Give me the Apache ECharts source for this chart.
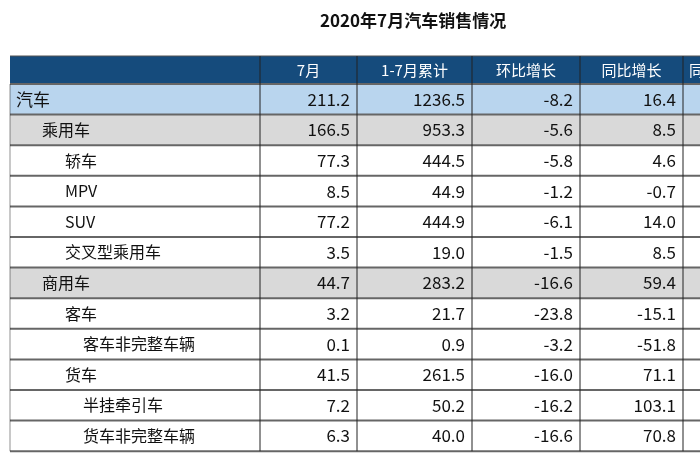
<!DOCTYPE html>
<html><head><meta charset="utf-8">
<script src="https://cdn.jsdelivr.net/npm/echarts@6/dist/echarts.min.js"></script>
<style>html,body{margin:0;background:#fff}#c{width:700px;height:466px}</style>
</head><body><div id="c"></div>
<script>
const title = '2020年7月汽车销售情况';
const headers = ['7月', '1-7月累计', '环比增长', '同比增长', '同比累计增长'];
const categories = ['汽车','乘用车','轿车','MPV','SUV','交叉型乘用车','商用车','客车','客车非完整车辆','货车','半挂牵引车','货车非完整车辆'];
const levels = [0,1,2,2,2,2,1,2,3,2,3,3];
const july = ['211.2','166.5','77.3','8.5','77.2','3.5','44.7','3.2','0.1','41.5','7.2','6.3'];
const cumulative = ['1236.5','953.3','444.5','44.9','444.9','19.0','283.2','21.7','0.9','261.5','50.2','40.0'];
const mom = ['-8.2','-5.6','-5.8','-1.2','-6.1','-1.5','-16.6','-23.8','-3.2','-16.0','-16.2','-16.6'];
const yoy = ['16.4','8.5','4.6','-0.7','14.0','8.5','59.4','-15.1','-51.8','71.1','103.1','70.8'];

const colX = [10, 260, 357, 472, 580, 683, 800];
const top0 = 56, headH = 28, rowH = 30.6;
const font = '"Liberation Sans Narrow","Noto Sans CJK SC",sans-serif';
const cjk = '"Noto Sans CJK SC",sans-serif';
const els = [];
els.push({type:'text', left:'center', top:12, style:{text:title, font:'bold 17px '+cjk, fill:'#111'}, left:320});
els.push({type:'rect', shape:{x:colX[0], y:top0, width:700-colX[0], height:headH}, style:{fill:'#154b7c'}});
headers.forEach((h,i)=>{
  const last = i===4;
  els.push({type:'text', style:{text:h, x:last?colX[5]+6:(colX[i+1]+colX[i+2])/2, y:top0+headH/2, textAlign:last?'left':'center', textVerticalAlign:'middle', font:'15px '+cjk, fill:'#fff'}});
});
const cols = [july, cumulative, mom, yoy];
categories.forEach((c,r)=>{
  const y = top0+headH+r*rowH;
  const fill = levels[r]===0 ? '#b9d5ee' : (levels[r]===1 ? '#d9d9d9' : '#ffffff');
  els.push({type:'rect', shape:{x:colX[0], y:y, width:700-colX[0], height:rowH}, style:{fill:fill}});
  const ind = [6, 32, 55, 73][levels[r]];
  els.push({type:'text', style:{text:c, x:colX[0]+ind, y:y+rowH/2, textVerticalAlign:'middle', font:(levels[r]===0?'17px ':'16px ')+cjk, fill:'#111'}});
  cols.forEach((arr,k)=>{
    els.push({type:'text', style:{text:arr[r], x:colX[k+2]-7, y:y+rowH/2, textAlign:'right', textVerticalAlign:'middle', font:'17px '+font, fill:'#111'}});
  });
  els.push({type:'line', shape:{x1:colX[0], y1:y, x2:700, y2:y}, style:{stroke:'#666', lineWidth:2}});
});
const bottom = top0+headH+categories.length*rowH;
els.push({type:'line', shape:{x1:colX[0], y1:bottom, x2:700, y2:bottom}, style:{stroke:'#666', lineWidth:2}});
els.push({type:'line', shape:{x1:colX[0], y1:top0, x2:700, y2:top0}, style:{stroke:'#555', lineWidth:1}});
for (let i=1;i<=5;i++) els.push({type:'line', shape:{x1:colX[i], y1:top0, x2:colX[i], y2:bottom}, style:{stroke:'#222', lineWidth:1}});
els.push({type:'line', shape:{x1:colX[0], y1:top0+headH, x2:colX[0], y2:bottom}, style:{stroke:'#222', lineWidth:0.5}});
const chart = echarts.init(document.getElementById('c'));
chart.setOption({animation:false, graphic:{elements:els}});
</script></body></html>
